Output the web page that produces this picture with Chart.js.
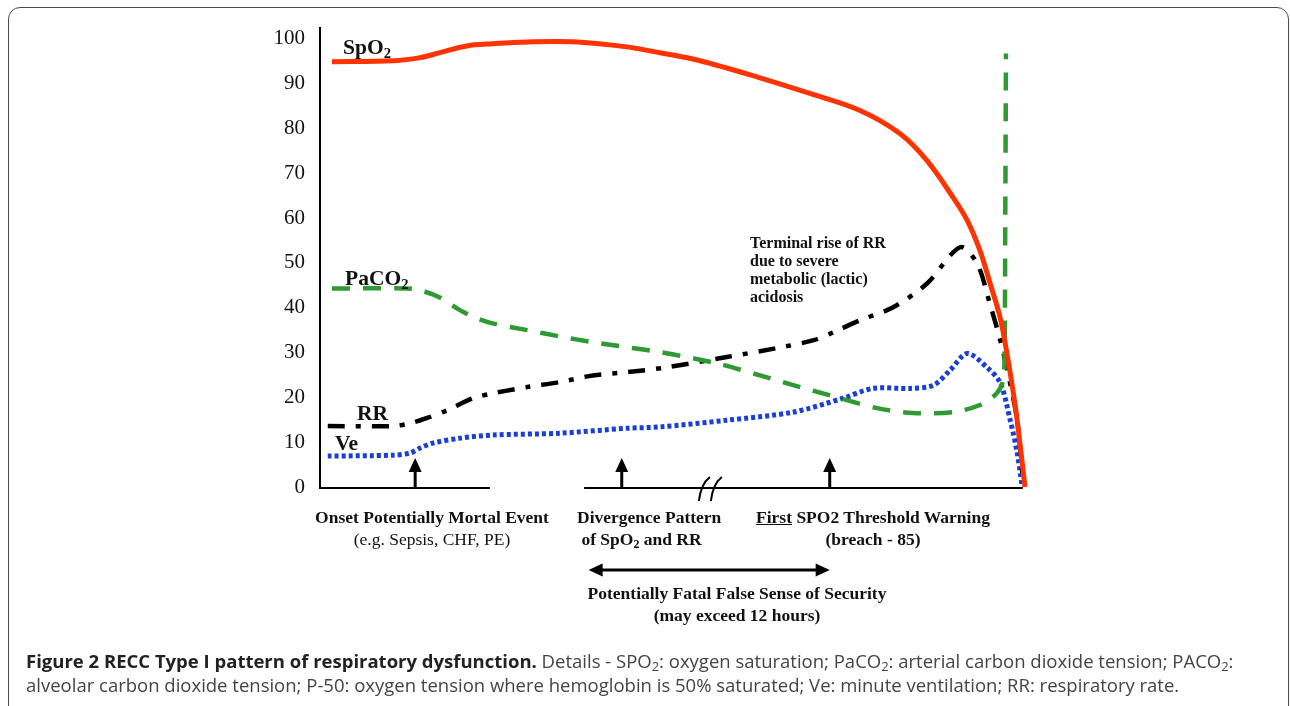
<!DOCTYPE html>
<html>
<head>
<meta charset="utf-8">
<script src="https://cdn.jsdelivr.net/npm/chart.js@4.4.1/dist/chart.umd.min.js"></script>
<style>
  body { margin: 0; background: #fff; }
  #wrap { position: relative; width: 1290px; height: 706px; overflow: hidden; }
  #frame { position: absolute; left: 8px; top: 7px; width: 1279px; height: 760px;
           border: 1.5px solid #4a4a4a; border-radius: 12px; }
  canvas { position: absolute; left: 0; top: 0; }
  .lbl { position: absolute; font-family: "Liberation Serif", "Times New Roman", serif;
         font-weight: bold; color: #111; white-space: nowrap; }
  .lbl sub { font-size: 0.68em; vertical-align: -0.25em; line-height: 0; }
  .curve { font-size: 21.5px; line-height: 20px; }
  .note { font-size: 16px; line-height: 18px; }
  .ev { font-size: 17.5px; line-height: 22px; }
  .plain { font-weight: normal; }
  #caption { position: absolute; left: 26px; top: 649px; width: 1260px;
             font-family: "Open Sans", "Noto Sans", sans-serif; font-size: 18.5px;
             line-height: 24px; color: #444; white-space: nowrap; }
  #caption b { color: #222; }
  #caption sub { font-size: 0.7em; vertical-align: -0.2em; line-height: 0; }
</style>
</head>
<body>
<div id="wrap">
  <div id="frame"></div>
  <canvas id="myChart" width="1290" height="706"></canvas>

  <div class="lbl curve" style="left:343px; top:37px;">SpO<sub>2</sub></div>
  <div class="lbl curve" style="left:345px; top:268px;">PaCO<sub>2</sub></div>
  <div class="lbl curve" style="left:357px; top:403px;">RR</div>
  <div class="lbl curve" style="left:335px; top:433px;">Ve</div>

  <div class="lbl note" style="left:750px; top:234px;">Terminal rise of RR<br>due to severe<br>metabolic (lactic)<br>acidosis</div>

  <div class="lbl ev" style="left:282px; top:506px; width:300px; text-align:center;">Onset Potentially Mortal Event<br><span class="plain">(e.g. Sepsis, CHF, PE)</span></div>
  <div class="lbl ev" style="left:577px; top:506px;">Divergence Pattern<br>&nbsp;of SpO<sub>2</sub> and RR</div>
  <div class="lbl ev" style="left:723px; top:506px; width:300px; text-align:center;"><u>First</u> SPO2 Threshold Warning<br>(breach - 85)</div>
  <div class="lbl ev" style="left:587px; top:582px; width:300px; text-align:center;">Potentially Fatal False Sense of Security<br>(may exceed 12 hours)</div>

  <div id="caption"><b>Figure 2 RECC Type I pattern of respiratory dysfunction.</b> Details - SPO<sub>2</sub>: oxygen saturation; PaCO<sub>2</sub>: arterial carbon dioxide tension; PACO<sub>2</sub>:<br>alveolar carbon dioxide tension; P-50: oxygen tension where hemoglobin is 50% saturated; Ve: minute ventilation; RR: respiratory rate.</div>
</div>

<script>
const spo2X = [1.7, 10.4, 14.2, 17.0, 20.8, 24.5, 29.4, 36.5, 43.5, 48.2, 53.9, 62.4, 69.5, 76.6, 82.3, 86.1, 89.8, 91.8, 93.6, 95.0, 96.5, 97.6, 98.6, 99.3, 100];
const spo2Y = [94.9, 95.1, 95.8, 96.9, 98.4, 98.9, 99.3, 99.3, 98.2, 96.9, 95.1, 91.3, 87.8, 84.0, 78.8, 72.8, 64.6, 59.5, 52.8, 45.7, 37.6, 28.3, 18.3, 9.4, 0];

const paco2X = [1.7, 12.3, 14.2, 17.0, 19.9, 22.3, 24.5, 29.4, 34.0, 38.7, 43.5, 48.2, 56.3, 62.4, 68.1, 73.8, 79.0, 84.1, 89.8, 93.6, 96.0, 96.9, 97.1, 97.2, 97.3];
const paco2Y = [44.3, 44.3, 43.9, 42.3, 39.4, 37.6, 36.5, 35.0, 33.6, 32.3, 31.2, 30.1, 27.6, 24.9, 22.3, 19.8, 17.6, 16.5, 16.7, 18.3, 20.9, 23.8, 29.8, 59.5, 96.7];

const rrX = [1.1, 10.4, 13.0, 15.2, 18.0, 21.7, 24.5, 29.4, 34.0, 38.7, 43.5, 49.2, 57.7, 64.8, 69.9, 72.8, 76.6, 81.3, 86.1, 90.8, 93.2, 95.0, 96.5, 97.4, 98.9, 99.7];
const rrY = [13.6, 13.6, 14.3, 15.4, 17.1, 19.8, 20.9, 22.3, 23.4, 24.9, 25.6, 26.7, 29.0, 31.0, 32.7, 34.5, 37.2, 40.1, 45.4, 53.5, 49.9, 41.0, 32.7, 26.7, 14.9, 1.6];

const veX = [1.1, 10.4, 12.8, 14.2, 16.0, 19.9, 24.5, 34.0, 43.5, 48.2, 57.7, 67.1, 74.2, 78.4, 83.7, 87.0, 89.4, 91.8, 94.6, 96.5, 97.9, 98.9, 99.6];
const veY = [6.9, 7.1, 7.6, 8.7, 9.8, 10.9, 11.6, 12.0, 13.1, 13.4, 14.9, 16.7, 19.8, 22.0, 22.0, 22.7, 26.1, 29.8, 26.7, 23.2, 14.9, 7.6, 0];

const yTicks = [0, 10, 20, 30, 40, 50, 60, 70, 80, 90, 100];

// event arrows, broken time axis and the "false sense of security" span
const eventX = [13.5, 42.8, 72.3];
const axisParts = [[0, 24.1], [37.6, 99.7]];
const breakX = 55.3;
const spanX = [38.1, 72.3];

function pts(xs, ys) {
    return xs.map((v, i) => ({ x: v, y: ys[i] }));
}

function arrowHead(ctx, tx, ty, dx, dy) {
    // tip at (tx,ty), pointing along (dx,dy)
    const len = 14, half = 6.5;
    const px = -dy, py = dx;
    ctx.beginPath();
    ctx.moveTo(tx, ty);
    ctx.lineTo(tx - dx * len + px * half, ty - dy * len + py * half);
    ctx.lineTo(tx - dx * len - px * half, ty - dy * len - py * half);
    ctx.closePath();
    ctx.fill();
}

const marks = {
    id: 'marks',
    beforeDatasetsDraw(chart) {
        const { ctx, scales: { x, y } } = chart;
        const y0 = y.getPixelForValue(0) + 1;
        ctx.save();
        ctx.strokeStyle = '#000';
        ctx.lineWidth = 2;
        axisParts.forEach(([a, b]) => {
            ctx.beginPath();
            ctx.moveTo(x.getPixelForValue(a) - 1, y0);
            ctx.lineTo(x.getPixelForValue(b), y0);
            ctx.stroke();
        });
        // the // break
        const bx = x.getPixelForValue(breakX);
        [-11, 1].forEach(off => {
            ctx.beginPath();
            ctx.moveTo(bx + off, y0 + 13);
            ctx.quadraticCurveTo(bx + off + 2, y0 - 4, bx + off + 11, y0 - 11);
            ctx.stroke();
        });
        ctx.restore();
    },
    afterDraw(chart) {
        const { ctx, scales: { x, y } } = chart;
        const y0 = y.getPixelForValue(0) + 1;
        ctx.save();
        ctx.strokeStyle = '#000';
        ctx.fillStyle = '#000';
        ctx.lineWidth = 3;
        eventX.forEach(v => {
            const px = x.getPixelForValue(v);
            ctx.beginPath();
            ctx.moveTo(px, y0);
            ctx.lineTo(px, y0 - 18);
            ctx.stroke();
            arrowHead(ctx, px, y0 - 30, 0, -1);
        });
        const ay = 570;
        const ax1 = x.getPixelForValue(spanX[0]);
        const ax2 = x.getPixelForValue(spanX[1]);
        ctx.beginPath();
        ctx.moveTo(ax1 + 10, ay);
        ctx.lineTo(ax2 - 10, ay);
        ctx.stroke();
        arrowHead(ctx, ax1, ay, -1, 0);
        arrowHead(ctx, ax2, ay, 1, 0);
        ctx.restore();
    }
};

const ctx = document.getElementById('myChart');
new Chart(ctx, {
    type: 'line',
    data: {
        datasets: [
            {
                label: 'SpO2',
                data: pts(spo2X, spo2Y),
                borderColor: '#ff3300',
                borderWidth: 5,
                tension: 0.35,
                clip: false
            },
            {
                label: 'PaCO2',
                data: pts(paco2X, paco2Y),
                borderColor: '#2f9a32',
                borderWidth: 4.5,
                borderDash: [18, 13],
                tension: 0.3,
                clip: false
            },
            {
                label: 'RR',
                data: pts(rrX, rrY),
                borderColor: '#000',
                borderWidth: 4.5,
                borderDash: [17, 11, 5, 11],
                tension: 0.3,
                clip: false
            },
            {
                label: 'Ve',
                data: pts(veX, veY),
                borderColor: '#1a3fd6',
                borderWidth: 5,
                borderDash: [4, 3],
                tension: 0.3,
                clip: false
            }
        ]
    },
    options: {
        responsive: false,
        animation: false,
        devicePixelRatio: 1,
        events: [],
        layout: { padding: { left: 220, top: 27, right: 265, bottom: 219 } },
        elements: { point: { radius: 0 }, line: { borderCapStyle: 'butt', fill: false } },
        plugins: { legend: { display: false }, tooltip: { enabled: false } },
        scales: {
            x: { type: 'linear', min: 0, max: 100, display: false },
            y: {
                min: 0,
                max: 102.5,
                afterBuildTicks: s => { s.ticks = yTicks.map(v => ({ value: v })); },
                afterFit: s => { s.width = 100; },
                grid: { display: false, drawTicks: false },
                border: { display: true, color: '#000', width: 2 },
                ticks: {
                    padding: 15,
                    color: '#111',
                    font: { family: '"Liberation Serif", "Times New Roman", serif', size: 21 }
                }
            }
        }
    },
    plugins: [marks]
});
</script>
</body>
</html>
